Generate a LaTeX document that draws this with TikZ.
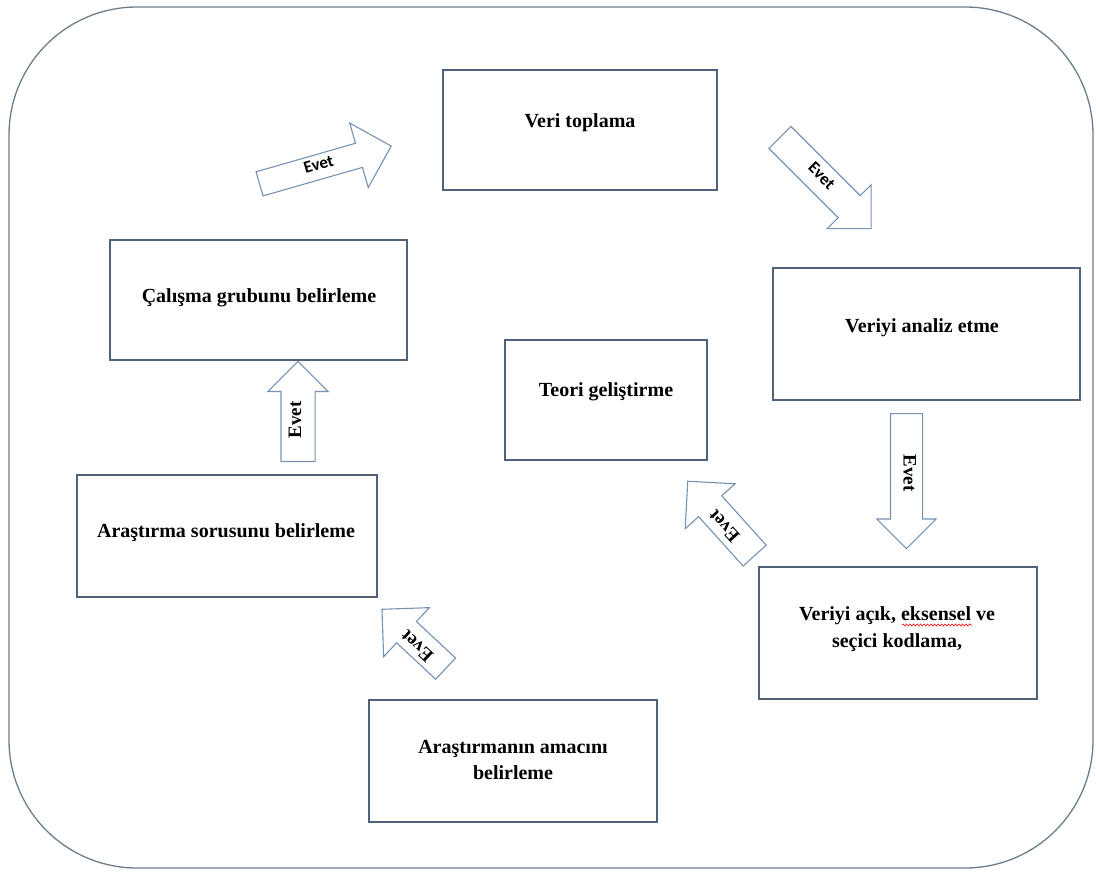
\documentclass[tikz,border=0pt]{standalone}
\usepackage{fontspec}
\setmainfont{Liberation Serif}
\newfontfamily\calibri{Carlito}
\usetikzlibrary{shapes.arrows,decorations.pathmorphing}
\definecolor{boxline}{HTML}{4F6278}
\definecolor{frameline}{HTML}{6B7D8D}
\definecolor{arrline}{HTML}{7592B2}
\begin{document}
\begin{tikzpicture}[x=1pt,y=-1pt,
  stagebox/.style={draw=boxline, line width=1.4pt, inner sep=0pt},
  lbl/.style={font=\bfseries\fontsize{20}{27}\selectfont, inner sep=0pt, anchor=base},
  evetarrow/.style={single arrow, draw=arrline, line width=1.1pt, fill=white,
    single arrow head extend=17pt, single arrow tip angle=90,
    inner xsep=2pt, inner ysep=10pt, text height=8pt, text depth=2pt,
    minimum width=0pt, anchor=tail},
  serifevet/.style={font=\bfseries\fontsize{19}{19}\selectfont},
  sansevet/.style={font=\calibri\bfseries\fontsize{17}{17}\selectfont}
]
\useasboundingbox (0,0) rectangle (1096,871);
% outer frame
\node[draw=frameline, line width=1.3pt, rounded corners=128pt,
  minimum width=1084pt, minimum height=861pt, inner sep=0pt] (frame) at (551,437.5) {};

% boxes
\node[stagebox, minimum width=274pt, minimum height=120pt] (veri) at (580,130) {};
\node[stagebox, minimum width=297pt, minimum height=120pt] (calisma) at (258.5,300) {};
\node[stagebox, minimum width=307pt, minimum height=132pt] (analiz) at (926.5,334) {};
\node[stagebox, minimum width=202pt, minimum height=120pt] (teori) at (606,400) {};
\node[stagebox, minimum width=300pt, minimum height=122pt] (soru) at (227,536) {};
\node[stagebox, minimum width=278pt, minimum height=132pt] (kodlama) at (898,633) {};
\node[stagebox, minimum width=288pt, minimum height=122pt] (amac) at (513,761) {};

% texts
\node[lbl] (tveri) at (580,127) {Veri toplama};
\node[lbl] (tcalisma) at (259,302) {Çalışma grubunu belirleme};
\node[lbl] (tanaliz) at (922,332) {Veriyi analiz etme};
\node[lbl] (tteori) at (606,396) {Teori geliştirme};
\node[lbl] (tsoru) at (226,537) {Araştırma sorusunu belirleme};
\node[lbl] (tkod1) at (897,620) {Veriyi açık, eksensel ve};
\node[lbl] (tkod2) at (897,647) {seçici kodlama,};
\node[lbl] (tamac1) at (513,753) {Araştırmanın amacını};
\node[lbl] (tamac2) at (513,779) {belirleme};

% spelling underline
\coordinate (w1) at (902,625);
\coordinate (w2) at (972,625);
\draw[red, line width=0.6pt, decorate, decoration={snake, amplitude=1pt, segment length=3.5pt}] (w1) -- (w2);

% block arrows
\node[evetarrow, sansevet, inner ysep=7pt, single arrow head extend=21pt, rotate=16, minimum height=137pt] (a1) at (259,184) {Evet};
\node[evetarrow, sansevet, single arrow head extend=15.5pt, rotate=-45, minimum height=129pt] (a2) at (779.5,137) {Evet};
\node[evetarrow, serifevet, inner ysep=11.5pt, single arrow head extend=13pt, rotate=90, minimum height=100pt] (a3) at (298,462) {Evet};
\node[evetarrow, serifevet, inner ysep=10.5pt, single arrow head extend=13.5pt, rotate=-90, minimum height=135pt] (a4) at (906.5,413) {Evet};
\node[evetarrow, serifevet, rotate=132, single arrow head extend=18pt, minimum height=100pt] (a5) at (755,556) {Evet};
\node[evetarrow, serifevet, inner ysep=9pt, rotate=137, single arrow head extend=19pt, minimum height=87pt] (a6) at (446,669) {Evet};
\end{tikzpicture}
\end{document}
